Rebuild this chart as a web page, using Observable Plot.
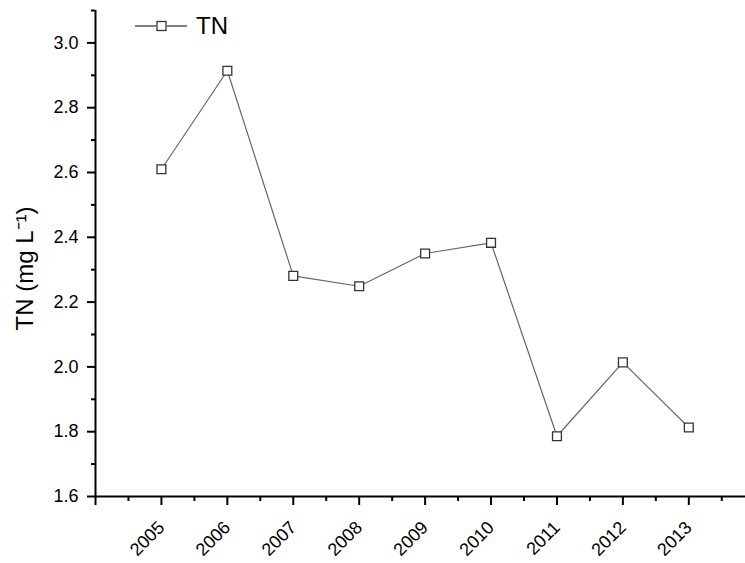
<!DOCTYPE html>
<html>
<head>
<meta charset="utf-8">
<script src="https://cdn.jsdelivr.net/npm/d3@7"></script>
<script src="https://cdn.jsdelivr.net/npm/@observablehq/plot@0.6"></script>
<style>
  html, body { margin: 0; padding: 0; background: #fff; }
  #wrap { position: relative; width: 745px; height: 563px; font-family: "Liberation Sans", Arial, sans-serif; }
  #legend { position: absolute; left: 134px; top: 12px; display: flex; align-items: center; font-size: 24px; color: #000; }
  #legend span { margin-left: 8px; }
</style>
</head>
<body>
<div id="wrap">
  <div id="chart"></div>
  <div id="legend">
    <svg width="54" height="20" viewBox="0 0 54 20">
      <line x1="1" y1="10" x2="22" y2="10" stroke="#000" stroke-width="1"></line>
      <rect x="23" y="5.5" width="9" height="9" fill="#fff" stroke="#333" stroke-width="1.3"></rect>
      <line x1="33" y1="10" x2="53" y2="10" stroke="#000" stroke-width="1"></line>
    </svg>
    <span>TN</span>
  </div>
</div>
<script>
const years = [2005, 2006, 2007, 2008, 2009, 2010, 2011, 2012, 2013];
const tn = [2.61, 2.914, 2.281, 2.249, 2.350, 2.383, 1.786, 2.014, 1.813];
const yTicks = [1.6, 1.8, 2.0, 2.2, 2.4, 2.6, 2.8, 3.0];
const yMinor = [1.7, 1.9, 2.1, 2.3, 2.5, 2.7, 2.9, 3.1];
const xTicks = [2005, 2006, 2007, 2008, 2009, 2010, 2011, 2012, 2013];
const xMinor = [2004.5, 2005.5, 2006.5, 2007.5, 2008.5, 2009.5, 2010.5, 2011.5, 2012.5, 2013.5];
const yTitle = "TN (mg L⁻¹)";

const data = years.map((year, i) => ({year, value: tn[i]}));

const chart = Plot.plot({
  width: 745,
  height: 563,
  marginLeft: 95,
  marginRight: 0,
  marginTop: 10,
  marginBottom: 67,
  style: {fontFamily: "'Liberation Sans', Arial, sans-serif", color: "#000", background: "#fff"},
  x: {domain: [2004, 2013.86]},
  y: {domain: [1.6, 3.1]},
  marks: [
    Plot.axisY({ticks: yTicks, tickSize: 8, tickPadding: 9, tickFormat: d3.format(".1f"), label: null}),
    Plot.axisY({ticks: yMinor, tickSize: 4, text: null, label: null}),
    Plot.axisX({ticks: xTicks, tickSize: 9, tickRotate: -45, tickPadding: 19, tickFormat: d => String(d), label: null}),
    Plot.axisX({ticks: [2004], tickSize: 9, text: null, label: null}),
    Plot.axisX({ticks: xMinor, tickSize: 5, text: null, label: null}),
    Plot.ruleX([2004], {stroke: "#000", strokeWidth: 2}),
    Plot.ruleY([1.6], {stroke: "#000", strokeWidth: 2}),
    Plot.text([yTitle], {frameAnchor: "left", text: d => d, rotate: -90, textAnchor: "middle", dx: -70, dy: 15, fontSize: 24, fill: "#000"}),
    Plot.line(data, {x: "year", y: "value", stroke: "#666", strokeWidth: 1.2}),
    Plot.dot(data, {x: "year", y: "value", symbol: "square", r: 5, fill: "#fff", stroke: "#333", strokeWidth: 1.3})
  ]
});
chart.querySelectorAll("text").forEach(t => {
  const s = t.textContent.trim();
  if (/^\d\.\d$/.test(s)) t.style.fontSize = "18px";
  else if (/^20\d\d$/.test(s)) t.style.fontSize = "18px";
});
chart.querySelectorAll("g").forEach(g => {
  const a = g.getAttribute("aria-label") || "";
  if (/tick$/.test(a)) { g.setAttribute("stroke-width", "2"); g.style.strokeWidth = "2px"; g.setAttribute("stroke", "#000"); }
});
document.getElementById("chart").appendChild(chart);
</script>
</body>
</html>
